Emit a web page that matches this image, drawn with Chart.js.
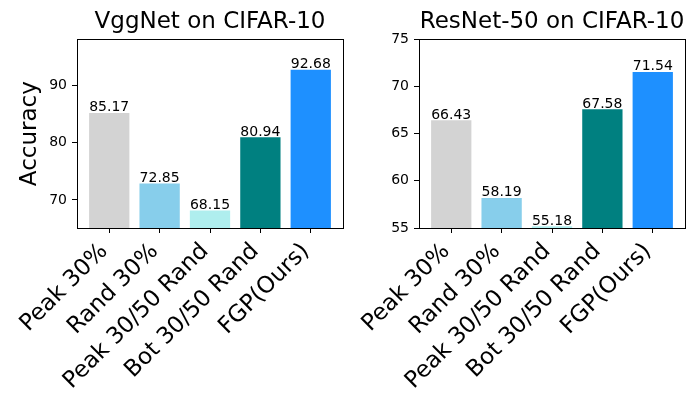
<!DOCTYPE html>
<html>
<head>
<meta charset="utf-8">
<script src="https://cdn.jsdelivr.net/npm/chart.js@4.4.1/dist/chart.umd.min.js"></script>
<style>
  html, body { margin: 0; padding: 0; background: #fff; }
  #wrap  { position: relative; width: 700px; height: 400px; }
  .panel { position: absolute; top: 0; width: 350px; height: 400px; }
</style>
</head>
<body>
<div id="wrap">
  <div class="panel" style="left:0"><canvas id="vgg"></canvas></div>
  <div class="panel" style="left:350px"><canvas id="res"></canvas></div>
</div>
<script>
const methods   = ['Peak 30%', 'Rand 30%', 'Peak 30/50 Rand', 'Bot 30/50 Rand', 'FGP(Ours)'];
const barColors = ['#d3d3d3', '#87ceeb', '#afeeee', '#008080', '#1e90ff'];
const vggAcc    = [85.17, 72.85, 68.15, 80.94, 92.68];
const resAcc    = [66.43, 58.19, 55.18, 67.58, 71.54];
const vggTicks  = [70, 80, 90];
const resTicks  = [55, 60, 65, 70, 75];
const xTicks    = [0, 1, 2, 3, 4];

const FONT = "'DejaVu Sans', sans-serif";

/* ── frame round the plot area ─────────────────────────── */
const framePlugin = {
  id: 'frame',
  afterDraw(chart) {
    const { ctx, chartArea: a } = chart;
    ctx.save();
    ctx.strokeStyle = '#000';
    ctx.lineWidth = 1;
    ctx.strokeRect(Math.round(a.left) + 0.5, Math.round(a.top) + 0.5,
      Math.round(a.right - a.left), Math.round(a.bottom - a.top));
    ctx.restore();
  }
};

/* ── value text on top of each bar ─────────────────────── */
const valuePlugin = {
  id: 'values',
  afterDatasetsDraw(chart) {
    const { ctx } = chart;
    const meta = chart.getDatasetMeta(0);
    const vals = chart.data.datasets[0].data;
    ctx.save();
    ctx.font = `14px ${FONT}`;
    ctx.fillStyle = '#000';
    ctx.textAlign = 'center';
    ctx.textBaseline = 'alphabetic';
    meta.data.forEach((bar, i) => {
      ctx.fillText(vals[i].y.toFixed(2), bar.x, bar.y - 1.5);
    });
    ctx.restore();
  }
};

function makeChart(id, title, values, yMin, yMax, yTicks, yTitle, yWidth, padRight) {
  return new Chart(document.getElementById(id), {
    type: 'bar',
    data: {
      datasets: [{
        data: values.map((v, i) => ({ x: i, y: v })),
        backgroundColor: barColors,
        borderWidth: 0,
        categoryPercentage: 1,
        barPercentage: 0.8,
      }]
    },
    options: {
      responsive: true,
      maintainAspectRatio: false,
      animation: false,
      layout: { padding: { left: 0, right: padRight, top: 0, bottom: 0 } },
      plugins: {
        legend: { display: false },
        tooltip: { enabled: false },
        title: {
          display: true,
          text: title,
          fullSize: false,
          color: '#000',
          font: { size: 23, family: FONT, weight: 'normal' },
          padding: { top: 8.2, bottom: 3.5 }
        }
      },
      scales: {
        x: {
          type: 'linear',
          min: -0.64,
          max: 4.64,
          offset: false,
          afterBuildTicks: s => { s.ticks = xTicks.map(v => ({ value: v })); },
          afterFit: s => { s.height = 172; },
          grid: { display: true, drawOnChartArea: false, offset: false, tickLength: 5, color: '#000' },
          border: { display: true, color: '#000' },
          ticks: {
            autoSkip: false,
            minRotation: 45,
            maxRotation: 45,
            padding: 5,
            labelOffset: -5,
            color: '#000',
            font: { size: 23, family: FONT },
            callback: v => methods[v]
          }
        },
        y: {
          min: yMin,
          max: yMax,
          afterBuildTicks: s => { s.ticks = yTicks.map(v => ({ value: v })); },
          afterFit: s => { s.width = yWidth; },
          grid: { display: true, drawOnChartArea: false, tickLength: 5, color: '#000' },
          border: { display: true, color: '#000' },
          title: {
            display: !!yTitle,
            text: yTitle,
            color: '#000',
            font: { size: 23, family: FONT },
            padding: { top: 16.5, bottom: 0 }
          },
          ticks: {
            padding: 5,
            color: '#000',
            font: { size: 14, family: FONT }
          }
        }
      }
    },
    plugins: [framePlugin, valuePlugin]
  });
}

makeChart('vgg', 'VggNet on CIFAR-10', vggAcc, 65.1, 98, vggTicks, 'Accuracy', 77, 7);
makeChart('res', 'ResNet-50 on CIFAR-10', resAcc, 55, 75, resTicks, '', 69, 15);
</script>
</body>
</html>
